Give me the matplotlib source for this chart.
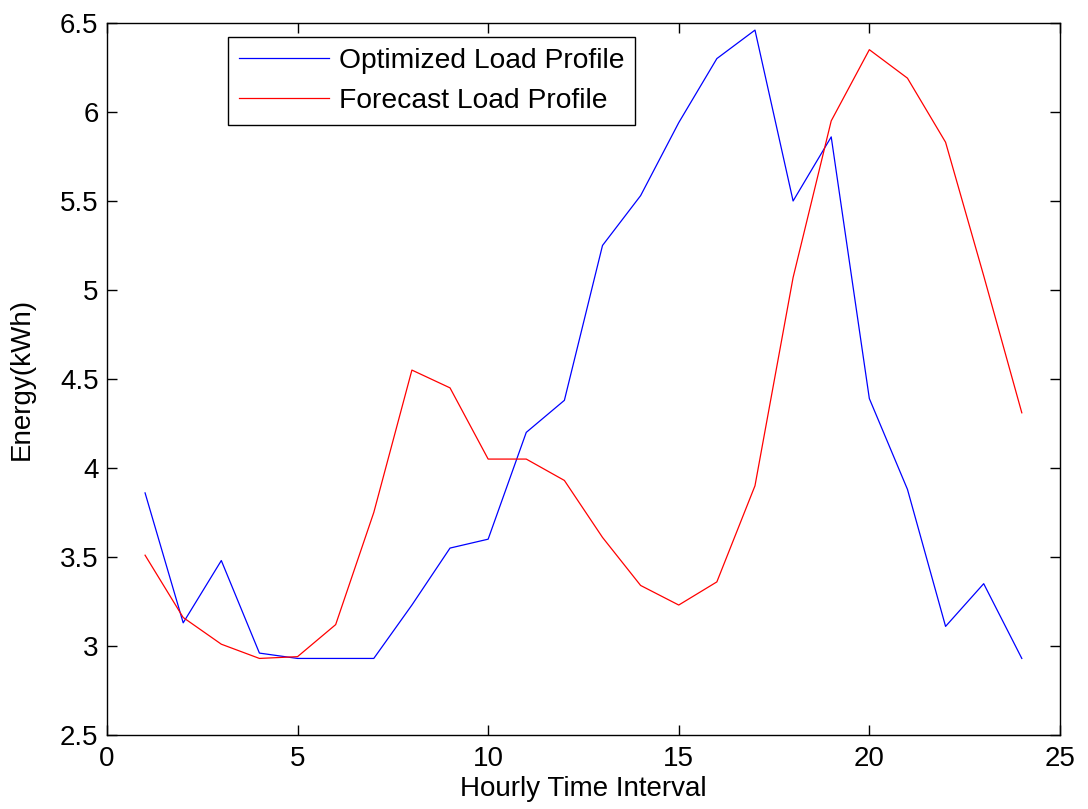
import matplotlib
matplotlib.use("Agg")
import matplotlib.pyplot as plt

plt.rcParams['font.family'] = ['Liberation Sans', 'DejaVu Sans']

hours = list(range(1, 25))
optimized = [3.86, 3.13, 3.48, 2.96, 2.93, 2.93, 2.93, 3.23, 3.55, 3.60,
             4.20, 4.38, 5.25, 5.53, 5.94, 6.30, 6.46, 5.50, 5.86, 4.39,
             3.88, 3.11, 3.35, 2.93]
forecast = [3.51, 3.16, 3.01, 2.93, 2.94, 3.12, 3.75, 4.55, 4.45, 4.05,
            4.05, 3.93, 3.61, 3.34, 3.23, 3.36, 3.90, 5.07, 5.95, 6.35,
            6.19, 5.83, 5.08, 4.31]
xticks = [0, 5, 10, 15, 20, 25]
yticks = [2.5, 3, 3.5, 4, 4.5, 5, 5.5, 6, 6.5]
ytick_labels = ['2.5', '3', '3.5', '4', '4.5', '5', '5.5', '6', '6.5']

fig = plt.figure(figsize=(10.88, 8.09), dpi=100)
ax = fig.add_axes([0.0983, 0.0915, 0.8759, 0.8801])

ax.plot(hours, optimized, color=(0, 0, 1), linewidth=0.9, label='Optimized Load Profile')
ax.plot(hours, forecast, color=(1, 0, 0), linewidth=0.9, label='Forecast Load Profile')

ax.set_xlim(0, 25)
ax.set_ylim(2.5, 6.5)
ax.set_xticks(xticks)
ax.set_yticks(yticks)
ax.set_yticklabels(ytick_labels)
ax.tick_params(direction='in', length=7, width=1, top=True, right=True,
               labelsize=20)
ax.tick_params(axis='x', pad=8)
ax.tick_params(axis='y', pad=6)
for s in ax.spines.values():
    s.set_linewidth(1.0)
    s.set_color('black')

ax.set_xlabel('Hourly Time Interval', fontsize=20, labelpad=3)
ax.set_ylabel('Energy(kWh)', fontsize=20, labelpad=18)

leg = ax.legend(loc='upper left', bbox_to_anchor=(0.127, 0.980), fontsize=20.3,
                fancybox=False, framealpha=1, edgecolor='black',
                handlelength=3.2, handletextpad=0.35, borderpad=0.38,
                labelspacing=0.5, borderaxespad=0)
leg.get_frame().set_linewidth(1.0)

fig.savefig('out.png', dpi=100)
